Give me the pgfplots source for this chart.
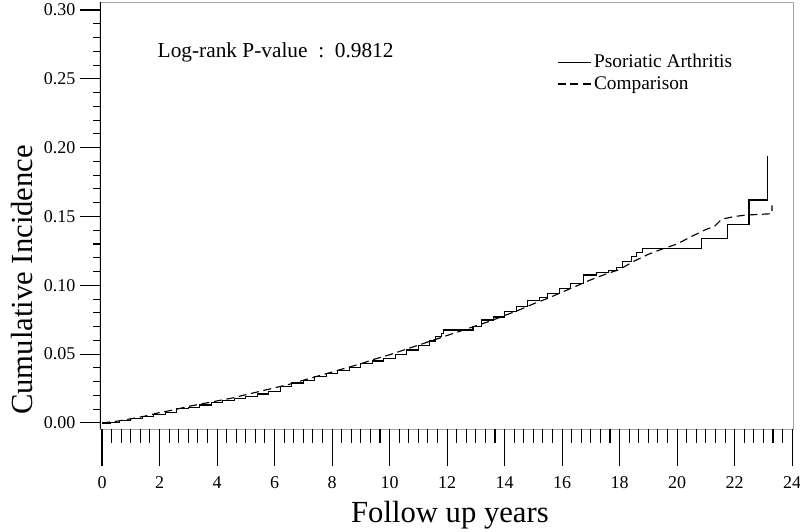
\documentclass[border=0pt]{standalone}
\usepackage{fontspec}
\setmainfont{Liberation Serif}
\usepackage{pgfplots}
\pgfplotsset{compat=1.18}
\begin{document}
\begin{tikzpicture}
\useasboundingbox (-75pt,-77.25pt) rectangle (525pt,321.75pt);
\pgfplotsset{
  common/.style={
    scale only axis, width=519.75pt, height=320.25pt,
    xmin=-0.07, xmax=24.03, ymin=-0.0044, ymax=0.3058,
    tick align=outside,
    ticklabel style={font=\fontsize{13.5}{15}\selectfont},
    /pgf/number format/assume math mode=true,
  }
}
\begin{axis}[
  common,
  xtick=\empty,
  ytick={0,0.05,0.10,0.15,0.20,0.25,0.30},
  minor y tick num=4,
  ytick pos=left,
  major tick length=15pt, minor tick length=5pt,
  ytick style={black, line width=0.8pt},
  yticklabel style={/pgf/number format/.cd, fixed, fixed zerofill, precision=2},
  axis line style={gray!70, line width=0.5pt},
  ylabel={Cumulative Incidence},
  ylabel style={font=\fontsize{23}{26}\selectfont, at={(axis description cs:-0.1126,0.349)}, anchor=center},
  legend style={at={(axis description cs:0.659,0.884)}, anchor=north west, draw=none, fill=none,
    font=\fontsize{14.5}{16}\selectfont, row sep=1pt, inner sep=0pt},
  legend cell align=left,
  legend image code/.code={\draw[#1] (0pt,0pt) -- (25pt,0pt);},
]
% Psoriatic Arthritis
\addplot[const plot, black, line width=0.85pt, mark=none] coordinates {
(0,0) (0.3,0.0005) (0.6,0.0015) (1.0,0.003) (1.4,0.0045) (1.8,0.006) (2.2,0.0075)
(2.6,0.0105) (3.0,0.0115) (3.4,0.013) (3.8,0.015) (4.2,0.0165) (4.6,0.018) (5.0,0.0195)
(5.4,0.021) (5.8,0.023) (6.2,0.0265) (6.6,0.029) (7.0,0.031) (7.4,0.0335) (7.8,0.036)
(8.2,0.038) (8.6,0.0405) (9.0,0.043) (9.4,0.045) (9.8,0.047) (10.2,0.050) (10.6,0.053)
(11.0,0.0565) (11.4,0.0595) (11.6,0.0625) (11.8,0.065) (11.87,0.0675) (12.9,0.070)
(13.2,0.0748) (13.6,0.077) (14.0,0.081) (14.4,0.0845) (14.8,0.089) (15.2,0.091)
(15.5,0.094) (15.9,0.0975) (16.3,0.1015) (16.73,0.1075) (17.2,0.109) (17.6,0.111)
(17.9,0.113) (18.1,0.117) (18.4,0.121) (18.6,0.124) (18.8,0.127) (20.86,0.134)
(21.76,0.144) (22.5,0.162) (23.14,0.194)
};
\addlegendentry{Psoriatic Arthritis}
% Comparison
\addplot[black, line width=0.85pt, dash pattern=on 6pt off 3.5pt, mark=none] coordinates {
(0,0) (0.5,0.0012) (1,0.003) (1.5,0.005) (2,0.0075) (2.5,0.0095) (3,0.012) (3.5,0.014)
(4,0.016) (4.5,0.018) (5,0.0205) (5.5,0.023) (6,0.0255) (6.5,0.028) (7,0.031) (7.5,0.034)
(8,0.037) (8.5,0.040) (9,0.043) (9.5,0.0465) (10,0.0495) (10.5,0.053) (11,0.0565)
(11.5,0.060) (12,0.0635) (12.5,0.067) (13,0.0705) (13.5,0.074) (14,0.078) (14.5,0.082)
(15,0.0865) (15.5,0.0905) (16,0.095) (16.5,0.0995) (17,0.104) (17.5,0.108) (18,0.1115)
(18.5,0.1175) (19,0.1225) (19.5,0.1265) (20,0.130) (20.5,0.1355) (21,0.1405)
(21.3,0.1428) (21.55,0.148) (22,0.150) (22.4,0.151) (23.3,0.152) (23.3,0.158)
};
\addlegendentry{Comparison}
\draw[black, line width=0.8pt] (axis description cs:0,0) -- (axis description cs:0,1);
\node[anchor=base west, font=\fontsize{16}{19}\selectfont] at (axis description cs:0.0765,0.869)
  {Log-rank P-value\hspace{0.5em}:\hspace{0.5em}0.9812};
\end{axis}
\begin{axis}[
  common,
  hide y axis,
  axis x line*=bottom,
  x axis line style={draw=none},
  xtick={0,2,4,6,8,10,12,14,16,18,20,22,24},
  minor x tick num=5,
  major tick length=28pt, minor tick length=10.5pt,
  xtick style={black, line width=0.8pt},
  xticklabel style={yshift=-4pt},
  xlabel={Follow up years},
  xlabel style={font=\fontsize{23}{26}\selectfont, at={(axis description cs:0.505,-0.2014)}, anchor=center},
]
\end{axis}
\end{tikzpicture}
\end{document}
